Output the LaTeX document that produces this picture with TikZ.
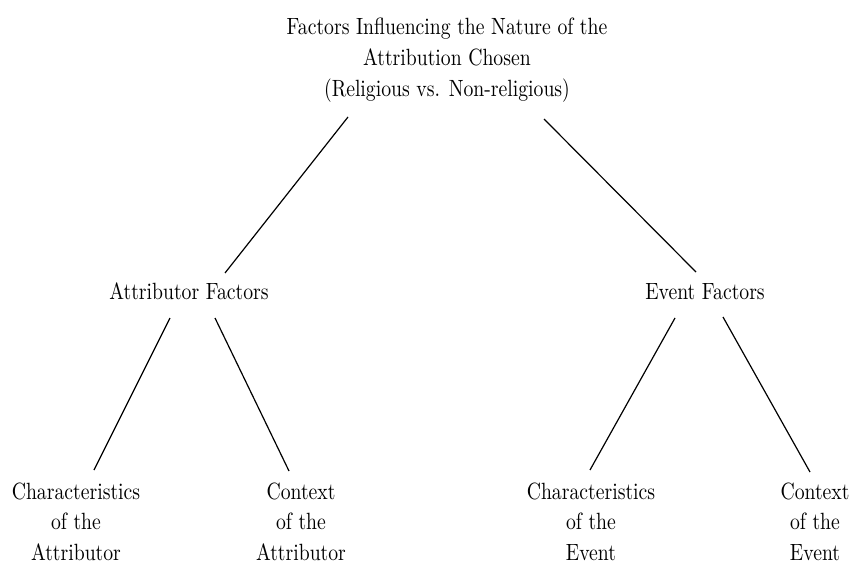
\documentclass[tikz,border=0pt]{standalone}
\usepackage{graphicx}
\newcommand\vstack[1]{\scalebox{1.97}[2.35]{\fontsize{10}{13}\selectfont\begin{tabular}[t]{@{}c@{}}#1\end{tabular}}}
\tikzset{
  lbl/.style={inner sep=0pt, anchor=base, text=black},
  conn/.style={line width=1.2pt, black}
}
\begin{document}
\begin{tikzpicture}[x=1pt,y=-1pt]
\useasboundingbox[fill=white] (0,0) rectangle (852,567);
\node[lbl] (top) at (447,35) {\vstack{Factors Influencing the Nature of the\\Attribution Chosen\\(Religious vs. Non-religious)}};
\node[lbl] (af) at (189,299) {\vstack{Attributor Factors}};
\node[lbl] (ef) at (705,299) {\vstack{Event Factors}};
\node[lbl] (ca) at (76,499) {\vstack{Characteristics\\of the\\Attributor}};
\node[lbl] (xa) at (301,499) {\vstack{Context\\of the\\Attributor}};
\node[lbl] (ce) at (591,499) {\vstack{Characteristics\\of the\\Event}};
\node[lbl] (xe) at (815,499) {\vstack{Context\\of the\\Event}};
% connector end points
\coordinate (top-l) at (348,117);
\coordinate (top-r) at (544,119);
\coordinate (af-t) at (225,273);
\coordinate (ef-t) at (696,272);
\coordinate (af-l) at (170,318);
\coordinate (af-r) at (215,318);
\coordinate (ca-t) at (94,470);
\coordinate (xa-t) at (289,471);
\coordinate (ef-l) at (675,318);
\coordinate (ef-r) at (723,317);
\coordinate (ce-t) at (590,470);
\coordinate (xe-t) at (810,472);
\draw[conn] (top-l) -- (af-t);
\draw[conn] (top-r) -- (ef-t);
\draw[conn] (af-l) -- (ca-t);
\draw[conn] (af-r) -- (xa-t);
\draw[conn] (ef-l) -- (ce-t);
\draw[conn] (ef-r) -- (xe-t);
\end{tikzpicture}
\end{document}
